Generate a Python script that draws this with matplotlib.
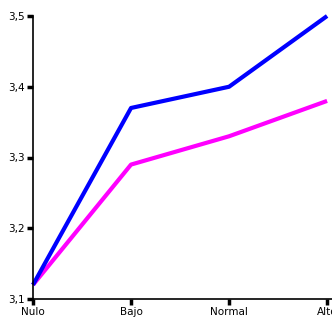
import matplotlib
matplotlib.use("Agg")
import matplotlib.pyplot as plt

categories = ["Nulo", "Bajo", "Normal", "Alto"]
serie_azul = [3.12, 3.37, 3.40, 3.50]
serie_magenta = [3.12, 3.29, 3.33, 3.38]
yticks = [3.1, 3.2, 3.3, 3.4, 3.5]
ytick_labels = ["3,1", "3,2", "3,3", "3,4", "3,5"]

W, H = 332, 324
fig = plt.figure(figsize=(W / 100, H / 100), dpi=100)
ax = fig.add_axes([33 / W, 25 / H, (W - 33) / W, (299 - 16) / H])

x = list(range(len(categories)))
ax.plot(x, serie_magenta, color="#FF00FF", lw=3, clip_on=False, solid_capstyle="butt")
ax.plot(x, serie_azul, color="#0000FF", lw=3, clip_on=False, solid_capstyle="butt")

ax.set_xlim(0, 3.05)
ax.set_ylim(3.1, 3.5)
ax.set_xticks(x)
ax.set_xticklabels(categories, fontsize=7.5)
ax.set_yticks(yticks)
ax.set_yticklabels(ytick_labels, fontsize=7.5)
ax.tick_params(axis="both", direction="out", length=4, width=2.5, pad=2)
for s in ["top", "right"]:
    ax.spines[s].set_visible(False)
for s in ["left", "bottom"]:
    ax.spines[s].set_linewidth(1.2)

fig.savefig("out.png", dpi=100)
